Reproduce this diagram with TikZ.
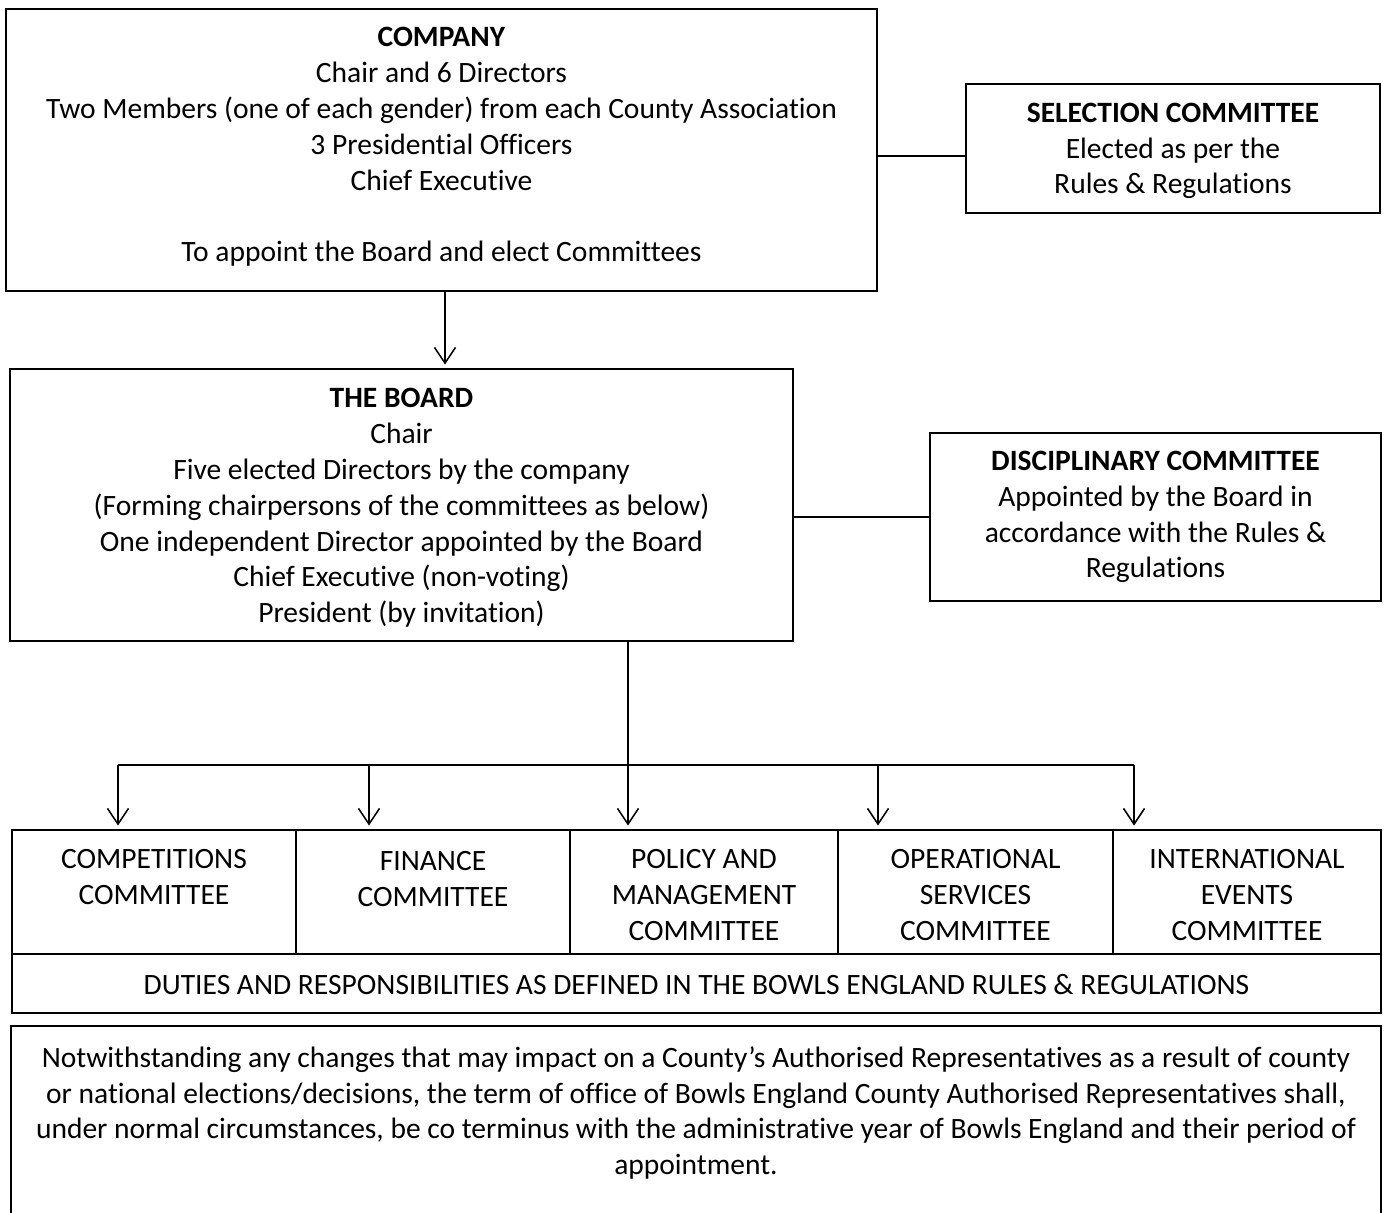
\documentclass[tikz,border=0pt]{standalone}
\usepackage{fontspec}
\setmainfont{Carlito}[Ligatures={NoCommon}]
\usetikzlibrary{arrows.meta, positioning}

\newcommand{\orgfont}{\fontsize{16.8}{20.4}\selectfont}

\tikzset{
    orgbox/.style={draw, line width=1pt, inner sep=0pt, outer sep=0pt},
    orgtext/.style={inner sep=0pt, align=center, font=\orgfont},
    arr/.style={-{Straight Barb[length=9pt,width=12pt]}, line width=0.9pt, shorten >=2.5pt},
    link/.style={line width=1pt}
}

\begin{document}
\begin{tikzpicture}[x=0.02cm, y=-0.02cm]

        \def\px{0.02cm}
        \useasboundingbox (0,0) rectangle (1387,1213);

        % top level
        \node[orgbox, minimum width=871*\px, minimum height=282*\px] (company) at (441.5,150) {};
        \node[orgtext] (company-t) at (441.5,147) {\textbf{COMPANY}\\Chair and 6 Directors\\Two Members (one of each gender) from each County Association\\3 Presidential Officers\\Chief Executive\\[20.4pt]To appoint the Board and elect Committees};

        \node[orgbox, minimum width=414*\px, minimum height=129*\px] (sel) at (1173,148.5) {};
        \node[orgtext] (sel-t) at (1173,151) {\textbf{SELECTION COMMITTEE}\\Elected as per the\\Rules \& Regulations};

        \node[orgbox, minimum width=783*\px, minimum height=272*\px] (board) at (401.5,505) {};
        \node[orgtext] (board-t) at (401.5,508) {\textbf{THE BOARD}\\Chair\\Five elected Directors by the company\\(Forming chairpersons of the committees as below)\\One independent Director appointed by the Board\\Chief Executive (non-voting)\\President (by invitation)};

        \node[orgbox, minimum width=451*\px, minimum height=168*\px] (disc) at (1155.5,517) {};
        \node[orgtext] (disc-t) at (1155.5,517) {\textbf{DISCIPLINARY COMMITTEE}\\Appointed by the Board in\\accordance with the Rules \&\\Regulations};

        % committees
        \node[orgbox, minimum width=284*\px, minimum height=124*\px] (comp) at (154,892) {};
        \node[orgbox, minimum width=274*\px, minimum height=124*\px] (fin) at (433,892) {};
        \node[orgbox, minimum width=268*\px, minimum height=124*\px] (policy) at (704,892) {};
        \node[orgbox, minimum width=275*\px, minimum height=124*\px] (ops) at (975.5,892) {};
        \node[orgbox, minimum width=268*\px, minimum height=124*\px] (intl) at (1247,892) {};

        \node[orgtext, anchor=north] (comp-t) at (154,849) {COMPETITIONS\\COMMITTEE};
        \node[orgtext, anchor=north] (fin-t) at (433,851) {FINANCE\\COMMITTEE};
        \node[orgtext, anchor=north] (policy-t) at (704,849) {POLICY AND\\MANAGEMENT\\COMMITTEE};
        \node[orgtext, anchor=north] (ops-t) at (975.5,849) {OPERATIONAL\\SERVICES\\COMMITTEE};
        \node[orgtext, anchor=north] (intl-t) at (1247,849) {INTERNATIONAL\\EVENTS\\COMMITTEE};

        \node[orgbox, minimum width=1369*\px, minimum height=59*\px] (duties) at (696.5,983.5) {};
        \node[orgtext] (duties-t) at (696.5,985) {DUTIES AND RESPONSIBILITIES AS DEFINED IN THE BOWLS ENGLAND RULES \& REGULATIONS};

        \node[orgbox, minimum width=1370*\px, minimum height=199*\px] (note) at (696,1125.5) {};
        \node[orgtext] (note-t) at (696,1113) {Notwithstanding any changes that may impact on a County’s Authorised Representatives as a result of county\\or national elections/decisions, the term of office of Bowls England County Authorised Representatives shall,\\under normal circumstances, be co terminus with the administrative year of Bowls England and their period of\\appointment.};

        % connectors
        \coordinate (xcb) at (445,330);
        \coordinate (sellink) at (920,156);
        \coordinate (xcomp) at (118,765);
        \coordinate (xfin) at (369,765);
        \coordinate (xpol) at (628,765);
        \coordinate (xops) at (878,765);
        \coordinate (xint) at (1134,765);

        \draw[arr] (company.south -| xcb) -- (board.north -| xcb);
        \draw[link] (company.east |- sellink) -- (sel.west |- sellink);
        \draw[link] (board.east |- disc.west) -- (disc.west);

        \draw[arr] (board.south -| xpol) -- (policy.north -| xpol);
        \draw[link] (xcomp) -- (xint);
        \foreach \c/\b in {xcomp/comp, xfin/fin, xops/ops, xint/intl} {
                \draw[arr] (\c) -- (\b.north -| \c);
            }

\end{tikzpicture}
\end{document}
